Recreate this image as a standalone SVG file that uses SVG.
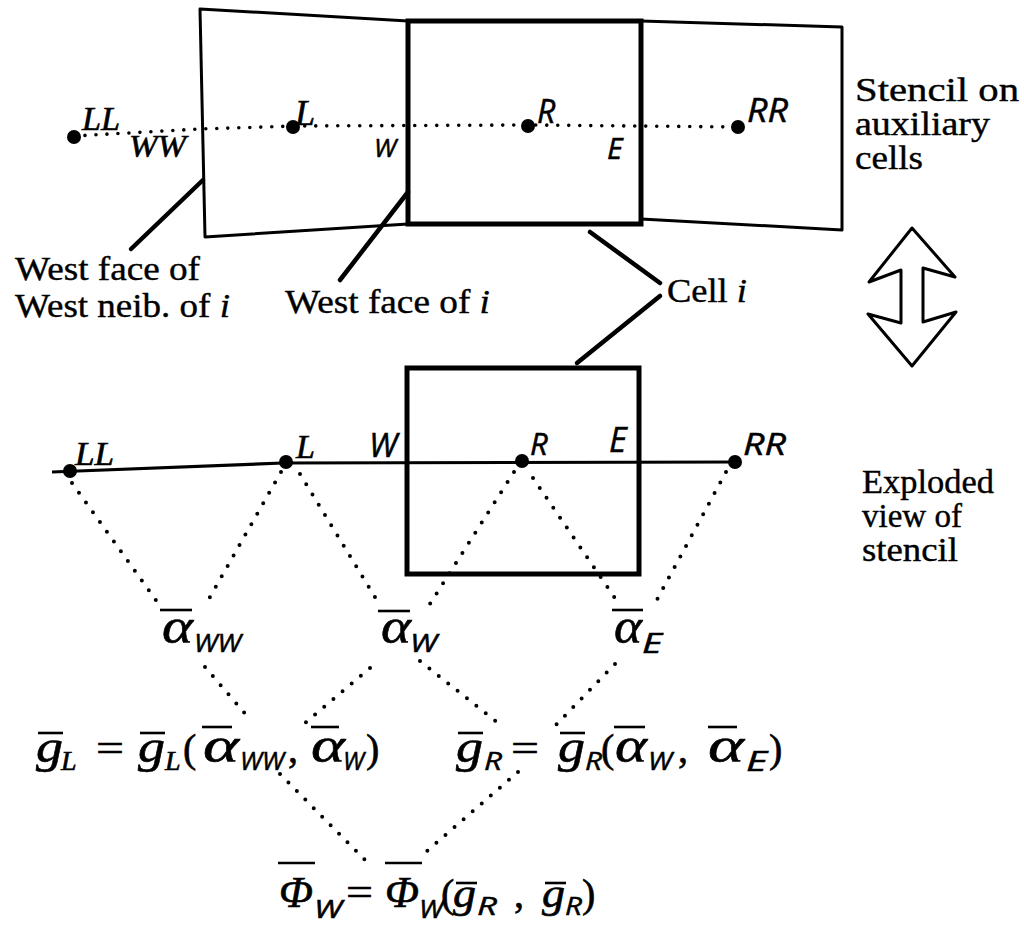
<svg xmlns="http://www.w3.org/2000/svg" width="1024" height="929" viewBox="0 0 1024 929">
<style>
.bg{fill:#fff}
.thin{fill:none;stroke:#000;stroke-width:3;stroke-linejoin:round}
.thick{fill:none;stroke:#000;stroke-width:5;stroke-linejoin:miter}
.lead{stroke:#000;stroke-width:4.5;stroke-linecap:round}
.dot{fill:none;stroke:#000;stroke-width:4;stroke-dasharray:0 12;stroke-linecap:round}
.dotfine{fill:none;stroke:#000;stroke-width:3.6;stroke-dasharray:0 11;stroke-linecap:round}
.ol{stroke:#000;stroke-width:2.6}
.body{font-family:"Liberation Serif",serif;font-size:34px;fill:#000;stroke:#000;stroke-width:0.4}
.si{font-family:"Liberation Serif",serif;font-style:italic;fill:#000;stroke:#000;stroke-width:0.6}
.ss{font-family:"Open Sans","DejaVu Sans",sans-serif;font-style:italic;fill:#000;stroke:#000;stroke-width:0.5}
.op{font-family:"Liberation Serif",serif;font-size:40px;fill:#000;stroke:#000;stroke-width:0.6}
</style>
<rect class="bg" x="0" y="0" width="1024" height="929"/>

<g id="aux-cells">
  <polyline class="thin" points="408,21 200,9 205,237 408,224"/>
  <polyline class="thin" points="641,21 842,27 842,230 641,219"/>
  <rect class="thick" x="408" y="21" width="233" height="203"/>
</g>

<g id="connectors">
  <polyline class="dotfine" points="74,136 200,129 295,126 530,125 740,127"/>
  <line class="lead" x1="203" y1="180" x2="131" y2="249"/>
  <line class="lead" x1="408" y1="192" x2="340" y2="280"/>
  <line class="lead" x1="590" y1="232" x2="660" y2="283"/>
  <line class="lead" x1="660" y1="296" x2="577" y2="363"/>
  <polyline fill="none" stroke="#000" stroke-width="3.2" points="52,472 283,463 738,462"/>
  <line class="dot" x1="72" y1="483" x2="160" y2="606"/>
  <line class="dot" x1="281" y1="472" x2="206" y2="604"/>
  <line class="dot" x1="300" y1="474" x2="378" y2="602"/>
  <line class="dot" x1="514" y1="472" x2="428" y2="607"/>
  <line class="dot" x1="533" y1="478" x2="619" y2="604"/>
  <line class="dot" x1="726" y1="472" x2="653" y2="607"/>
  <line class="dot" x1="205" y1="667" x2="248" y2="717"/>
  <line class="dot" x1="370" y1="668" x2="304" y2="724"/>
  <line class="dot" x1="420" y1="661" x2="503" y2="727"/>
  <line class="dot" x1="615" y1="664" x2="555" y2="726"/>
  <line class="dot" x1="280" y1="774" x2="365" y2="860"/>
  <line class="dot" x1="518" y1="772" x2="420" y2="857"/>
</g>

<g id="cell-i-exploded">
  <rect class="thick" x="407" y="368" width="232" height="206"/>
</g>

<g id="points-top">
  <circle cx="74" cy="137" r="7"/>
  <circle cx="293" cy="127" r="7"/>
  <circle cx="528" cy="126" r="7"/>
  <circle cx="738" cy="127" r="7"/>
  <text class="si" x="82" y="130" font-size="33" textLength="38" lengthAdjust="spacingAndGlyphs">LL</text>
  <text class="si" x="129" y="157" font-size="32" textLength="57" lengthAdjust="spacingAndGlyphs">WW</text>
  <text class="si" x="295" y="125" font-size="36">L</text>
  <text class="ss" x="374" y="157" font-size="26">W</text>
  <text class="ss" x="537" y="123" font-size="32">R</text>
  <text class="ss" x="607" y="159" font-size="30">E</text>
  <text class="ss" x="747" y="122" font-size="32" textLength="41" lengthAdjust="spacingAndGlyphs">RR</text>
</g>

<g id="points-bottom">
  <circle cx="70" cy="471" r="7"/>
  <circle cx="286" cy="462" r="7"/>
  <circle cx="522" cy="461" r="7"/>
  <circle cx="735" cy="462" r="7"/>
  <text class="si" x="75" y="465" font-size="33" textLength="39" lengthAdjust="spacingAndGlyphs">LL</text>
  <text class="si" x="296" y="458" font-size="34">L</text>
  <text class="ss" x="369" y="457" font-size="33">W</text>
  <text class="ss" x="530" y="455" font-size="31">R</text>
  <text class="ss" x="609" y="452" font-size="34">E</text>
  <text class="ss" x="743" y="455" font-size="31" textLength="43" lengthAdjust="spacingAndGlyphs">RR</text>
</g>

<g id="labels">
  <text class="body" x="15" y="280" textLength="185" lengthAdjust="spacingAndGlyphs">West face of</text>
  <text class="body" x="15" y="317" textLength="215" lengthAdjust="spacingAndGlyphs">West neib. of <tspan font-style="italic">i</tspan></text>
  <text class="body" x="285" y="313" textLength="205" lengthAdjust="spacingAndGlyphs">West face of <tspan font-style="italic">i</tspan></text>
  <text class="body" x="667" y="302" textLength="80" lengthAdjust="spacingAndGlyphs">Cell <tspan font-style="italic">i</tspan></text>
  <text class="body" x="855" y="101" textLength="164" lengthAdjust="spacingAndGlyphs">Stencil on</text>
  <text class="body" x="855" y="135" textLength="135" lengthAdjust="spacingAndGlyphs">auxiliary</text>
  <text class="body" x="855" y="169" textLength="68" lengthAdjust="spacingAndGlyphs">cells</text>
  <text class="body" x="862" y="493" textLength="132" lengthAdjust="spacingAndGlyphs">Exploded</text>
  <text class="body" x="862" y="527" textLength="100" lengthAdjust="spacingAndGlyphs">view of</text>
  <text class="body" x="862" y="561" textLength="96" lengthAdjust="spacingAndGlyphs">stencil</text>
</g>

<g id="double-arrow">
  <polygon fill="#fff" stroke="#000" stroke-width="3" stroke-linejoin="round" points="912,228 955,277 923,268 923,322 956,312 912,366 868,314 901,323 901,270 869,282"/>
</g>

<g id="alpha-row">
  <line class="ol" x1="160" y1="610" x2="192" y2="610"/>
  <text class="si" x="162" y="643" font-size="50" textLength="31" lengthAdjust="spacingAndGlyphs">α</text>
  <text class="ss" x="194" y="652" font-size="26" textLength="47" lengthAdjust="spacingAndGlyphs">WW</text>
  <line class="ol" x1="378" y1="611" x2="410" y2="611"/>
  <text class="si" x="381" y="643" font-size="50" textLength="30" lengthAdjust="spacingAndGlyphs">α</text>
  <text class="ss" x="410" y="652" font-size="26" textLength="27" lengthAdjust="spacingAndGlyphs">W</text>
  <line class="ol" x1="612" y1="610" x2="643" y2="610"/>
  <text class="si" x="614" y="643" font-size="50" textLength="28" lengthAdjust="spacingAndGlyphs">α</text>
  <text class="ss" x="642" y="653" font-size="28" textLength="20" lengthAdjust="spacingAndGlyphs">E</text>
</g>

<g id="g-row">
  <line class="ol" x1="38" y1="733" x2="63" y2="733"/>
  <text class="si" x="36" y="762" font-size="46" textLength="27" lengthAdjust="spacingAndGlyphs">g</text>
  <text class="si" x="61" y="770" font-size="28">L</text>
  <text class="op" x="96" y="762" textLength="28" lengthAdjust="spacingAndGlyphs">=</text>
  <line class="ol" x1="140" y1="733" x2="165" y2="733"/>
  <text class="si" x="138" y="762" font-size="46" textLength="27" lengthAdjust="spacingAndGlyphs">g</text>
  <text class="si" x="165" y="770" font-size="28">L</text>
  <text class="op" x="183" y="762">(</text>
  <line class="ol" x1="202" y1="727" x2="232" y2="727"/>
  <text class="si" x="203" y="762" font-size="50" textLength="36" lengthAdjust="spacingAndGlyphs">α</text>
  <text class="ss" x="240" y="770" font-size="26" textLength="44" lengthAdjust="spacingAndGlyphs">WW</text>
  <text class="op" x="288" y="762">,</text>
  <line class="ol" x1="311" y1="727" x2="339" y2="727"/>
  <text class="si" x="311" y="762" font-size="50" textLength="34" lengthAdjust="spacingAndGlyphs">α</text>
  <text class="ss" x="343" y="770" font-size="26" textLength="21" lengthAdjust="spacingAndGlyphs">W</text>
  <text class="op" x="366" y="762">)</text>

  <line class="ol" x1="458" y1="733" x2="483" y2="733"/>
  <text class="si" x="456" y="762" font-size="46" textLength="27" lengthAdjust="spacingAndGlyphs">g</text>
  <text class="ss" x="484" y="770" font-size="26" textLength="18" lengthAdjust="spacingAndGlyphs">R</text>
  <text class="op" x="511" y="762" textLength="28" lengthAdjust="spacingAndGlyphs">=</text>
  <line class="ol" x1="560" y1="733" x2="585" y2="733"/>
  <text class="si" x="558" y="762" font-size="46" textLength="27" lengthAdjust="spacingAndGlyphs">g</text>
  <text class="ss" x="585" y="770" font-size="26" textLength="17" lengthAdjust="spacingAndGlyphs">R</text>
  <text class="op" x="601" y="762">(</text>
  <line class="ol" x1="614" y1="727" x2="645" y2="727"/>
  <text class="si" x="615" y="762" font-size="50" textLength="32" lengthAdjust="spacingAndGlyphs">α</text>
  <text class="ss" x="648" y="770" font-size="26" textLength="24" lengthAdjust="spacingAndGlyphs">W</text>
  <text class="op" x="678" y="762">,</text>
  <line class="ol" x1="708" y1="727" x2="737" y2="727"/>
  <text class="si" x="708" y="762" font-size="50" textLength="36" lengthAdjust="spacingAndGlyphs">α</text>
  <text class="ss" x="746" y="771" font-size="28" textLength="21" lengthAdjust="spacingAndGlyphs">E</text>
  <text class="op" x="769" y="762">)</text>
</g>

<g id="phi-row">
  <line class="ol" x1="278" y1="863" x2="315" y2="863"/>
  <text class="si" x="279" y="907" font-size="44" textLength="34" lengthAdjust="spacingAndGlyphs">Φ</text>
  <text class="ss" x="314" y="918" font-size="26" textLength="28" lengthAdjust="spacingAndGlyphs">W</text>
  <text class="op" x="346" y="906" textLength="27" lengthAdjust="spacingAndGlyphs">=</text>
  <line class="ol" x1="385" y1="863" x2="422" y2="863"/>
  <text class="si" x="385" y="907" font-size="44" textLength="34" lengthAdjust="spacingAndGlyphs">Φ</text>
  <text class="ss" x="419" y="918" font-size="26" textLength="24" lengthAdjust="spacingAndGlyphs">W</text>
  <text class="op" x="441" y="907">(</text>
  <line class="ol" x1="456" y1="883" x2="477" y2="883"/>
  <text class="si" x="453" y="907" font-size="40" textLength="23" lengthAdjust="spacingAndGlyphs">g</text>
  <text class="ss" x="477" y="915" font-size="26" textLength="20" lengthAdjust="spacingAndGlyphs">R</text>
  <text class="op" x="514" y="907">,</text>
  <line class="ol" x1="545" y1="883" x2="566" y2="883"/>
  <text class="si" x="542" y="907" font-size="40" textLength="23" lengthAdjust="spacingAndGlyphs">g</text>
  <text class="ss" x="565" y="915" font-size="26" textLength="17" lengthAdjust="spacingAndGlyphs">R</text>
  <text class="op" x="582" y="907">)</text>
</g>
</svg>
